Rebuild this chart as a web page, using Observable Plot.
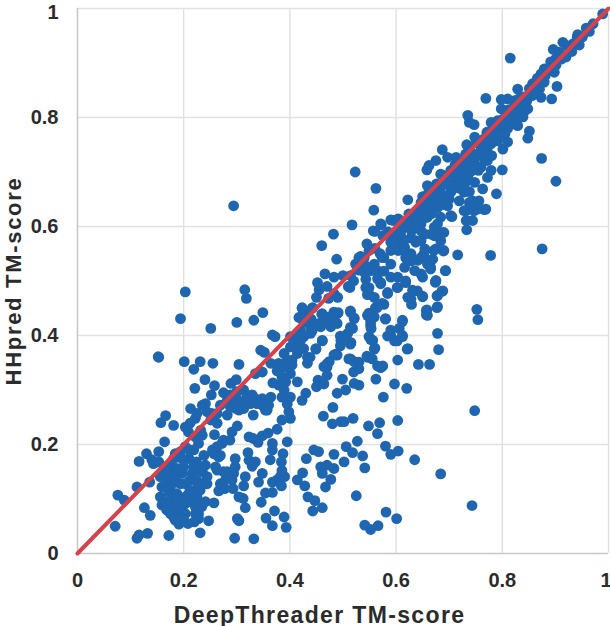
<!DOCTYPE html>
<html><head><meta charset="utf-8">
<script src="https://cdn.jsdelivr.net/npm/d3@7"></script>
<script src="https://cdn.jsdelivr.net/npm/@observablehq/plot@0.6"></script>
<style>html,body{margin:0;padding:0;background:#fff}svg{display:block}</style>
</head><body><div id="chart"></div>
<script>
const xLabel = "DeepThreader TM-score";
const yLabel = "HHpred TM-score";
const tickValues = [0,0.2,0.4,0.6,0.8,1];
const diagonal = [[0,0],[1,1]];
const lowScores = [[.071,.050],[.076,.107],[.088,.098],[.112,.122],[.136,.131],[.116,.169],[.130,.183],[.140,.172],[.153,.187],[.164,.205],[.157,.240],[.166,.253],[.181,.235],[.153,.360],[.152,.361],[.201,.352],[.219,.338],[.231,.352],[.255,.349],[.304,.347],[.240,.319],[.221,.303],[.258,.308],[.252,.291],[.275,.295],[.289,.312],[.299,.319],[.213,.266],[.235,.272],[.241,.275],[.203,.232],[.209,.223],[.222,.248],[.253,.257],[.263,.239],[.235,.217],[.258,.218],[.301,.234],[.291,.223],[.287,.208],[.272,.202],[.263,.196],[.254,.190],[.269,.180],[.228,.202],[.211,.190],[.194,.187],[.184,.183],[.238,.180],[.224,.168],[.210,.174],[.175,.162],[.162,.150],[.156,.141],[.181,.141],[.197,.147],[.216,.147],[.235,.150],[.244,.141],[.238,.128],[.225,.119],[.203,.128],[.187,.131],[.169,.128],[.172,.113],[.187,.110],[.203,.104],[.156,.104],[.225,.104],[.178,.095],[.203,.092],[.159,.089],[.234,.086],[.257,.093],[.228,.073],[.168,.080],[.190,.076],[.203,.073],[.126,.084],[.137,.070],[.181,.067],[.194,.064],[.191,.054],[.208,.055],[.220,.058],[.247,.060],[.231,.038],[.172,.033],[.132,.037],[.116,.034],[.112,.028],[.296,.028],[.332,.027],[.301,.064],[.304,.060],[.355,.065],[.371,.078],[.389,.067],[.367,.051],[.393,.048],[.316,.084],[.312,.101],[.304,.104],[.346,.094],[.354,.111],[.367,.112],[.313,.124],[.316,.141],[.266,.115],[.277,.119],[.293,.119],[.279,.135],[.275,.150],[.260,.159],[.294,.147],[.297,.159],[.297,.174],[.321,.185],[.323,.171],[.335,.168],[.329,.160],[.348,.147],[.341,.131],[.367,.131],[.376,.135],[.382,.141],[.384,.124],[.390,.141],[.385,.152],[.363,.172],[.384,.168],[.387,.183],[.367,.190],[.367,.202],[.395,.205],[.340,.204],[.323,.214],[.331,.211],[.348,.216],[.359,.221],[.376,.228],[.385,.245],[.401,.248],[.398,.260],[.395,.274],[.401,.287],[.331,.254],[.357,.263],[.364,.287],[.360,.272],[.348,.272],[.335,.284],[.319,.291],[.326,.275],[.310,.272],[.300,.284],[.304,.263],[.288,.269],[.282,.254],[.298,.278],[.313,.300]];
const midScores = [[.335,.330],[.348,.333],[.364,.349],[.345,.373],[.352,.369],[.367,.401],[.372,.398],[.379,.349],[.376,.335],[.368,.313],[.385,.324],[.389,.300],[.392,.315],[.401,.330],[.404,.346],[.414,.315],[.423,.281],[.430,.294],[.450,.306],[.453,.318],[.464,.311],[.470,.327],[.464,.343],[.474,.352],[.489,.364],[.433,.349],[.438,.360],[.449,.376],[.461,.391],[.439,.404],[.420,.391],[.411,.382],[.401,.398],[.414,.367],[.404,.355],[.426,.376],[.489,.294],[.481,.268],[.463,.252],[.480,.238],[.496,.242],[.203,.480],[.315,.484],[.318,.468],[.194,.431],[.300,.424],[.332,.428],[.349,.442],[.251,.413],[.423,.450],[.442,.450],[.420,.434],[.426,.425],[.439,.416],[.461,.440],[.455,.422],[.480,.425],[.467,.425],[.489,.440],[.452,.497],[.455,.484],[.483,.477],[.473,.468],[.414,.135],[.424,.148],[.428,.124],[.434,.104],[.447,.097],[.461,.084],[.443,.078],[.431,.174],[.445,.190],[.454,.187],[.483,.182],[.458,.159],[.461,.147],[.470,.162],[.483,.156],[.477,.136],[.467,.122],[.294,.638],[.482,.586],[.460,.565],[.488,.540],[.466,.513],[.483,.507]];
const rightLowScores = [[.752,.448],[.754,.429],[.678,.404],[.680,.374],[.642,.347],[.663,.347],[.603,.355],[.622,.376],[.562,.320],[.597,.311],[.620,.303],[.576,.287],[.748,.262],[.603,.244],[.569,.240],[.548,.234],[.565,.220],[.519,.248],[.502,.242],[.527,.206],[.506,.196],[.518,.185],[.537,.179],[.502,.168],[.541,.157],[.580,.197],[.590,.182],[.604,.188],[.635,.172],[.684,.146],[.525,.106],[.581,.076],[.601,.064],[.541,.052],[.552,.044],[.566,.051],[.743,.088],[.530,.309],[.521,.312],[.505,.300],[.499,.320],[.520,.333],[.530,.339],[.521,.352],[.511,.357],[.545,.362],[.555,.357],[.565,.344],[.575,.344],[.560,.377],[.556,.391],[.549,.398],[.553,.413],[.552,.425],[.546,.437],[.559,.434],[.580,.431],[.612,.428],[.606,.413],[.590,.410],[.584,.399],[.597,.390],[.612,.398],[.515,.387],[.502,.398],[.518,.413],[.509,.404],[.521,.431],[.514,.445],[.658,.447],[.659,.437],[.678,.453],[.629,.457],[.622,.470],[.631,.483],[.650,.472],[.678,.473],[.688,.482],[.674,.498],[.618,.497],[.603,.488],[.584,.479],[.574,.459],[.564,.451],[.559,.470],[.549,.476],[.543,.488],[.571,.495],[.513,.488]];
const upperScores = [[.989,.990],[.964,.958],[.958,.964],[.942,.952],[.945,.933],[.933,.935],[.914,.938],[.896,.925],[.907,.920],[.920,.911],[.901,.908],[.815,.909],[.898,.883],[.879,.889],[.873,.880],[.903,.857],[.893,.834],[.873,.837],[.860,.846],[.879,.865],[.857,.862],[.870,.852],[.829,.852],[.848,.816],[.839,.825],[.823,.831],[.810,.834],[.798,.833],[.769,.835],[.735,.804],[.738,.791],[.747,.787],[.798,.816],[.810,.807],[.823,.801],[.839,.801],[.829,.785],[.807,.785],[.791,.788],[.779,.791],[.851,.775],[.848,.762],[.810,.755],[.801,.742],[.779,.752],[.794,.767],[.766,.761],[.748,.764],[.733,.750],[.874,.725],[.901,.683],[.800,.704],[.779,.703],[.772,.690],[.766,.724],[.748,.727],[.687,.741],[.675,.721],[.662,.712],[.658,.704],[.697,.727],[.713,.727],[.729,.721],[.684,.696],[.703,.703],[.722,.703],[.738,.703],[.760,.709],[.748,.681],[.735,.690],[.763,.669],[.716,.687],[.697,.677],[.659,.675],[.738,.664],[.789,.660],[.756,.647],[.719,.647],[.738,.644],[.769,.632],[.728,.629],[.747,.629],[.753,.632],[.691,.654],[.678,.660],[.703,.663],[.659,.647],[.647,.644],[.622,.649],[.678,.635],[.697,.638],[.705,.618],[.684,.617],[.558,.630],[.562,.670],[.523,.700],[.517,.603],[.744,.611],[.732,.611],[.733,.594],[.684,.589],[.672,.599],[.659,.617],[.640,.629],[.624,.623],[.604,.614],[.595,.611],[.572,.603],[.560,.591],[.575,.583],[.591,.586],[.612,.599],[.629,.592],[.647,.605],[.654,.586],[.672,.583],[.684,.574],[.637,.574],[.612,.577],[.596,.574],[.545,.568],[.540,.543],[.530,.543],[.524,.531],[.514,.510],[.559,.531],[.574,.543],[.577,.518],[.553,.519],[.604,.556],[.616,.562],[.622,.537],[.616,.525],[.628,.550],[.654,.559],[.647,.543],[.659,.531],[.675,.559],[.689,.555],[.665,.522],[.669,.540],[.716,.548],[.778,.547],[.875,.559],[.693,.519],[.675,.501],[.647,.513],[.603,.507],[.565,.504],[.540,.516]];
const ridgeScores = [[.610,.603],[.632,.620],[.642,.628],[.650,.655],[.661,.638],[.667,.668],[.672,.650],[.676,.678],[.682,.668],[.686,.658],[.691,.693],[.696,.680],[.702,.697],[.706,.670],[.711,.713],[.716,.690],[.722,.718],[.726,.700],[.731,.733],[.736,.708],[.741,.737],[.746,.722],[.751,.754],[.756,.731],[.761,.757],[.766,.745],[.771,.773],[.776,.758],[.781,.778],[.786,.769],[.791,.794],[.796,.778],[.801,.797],[.806,.789],[.811,.814],[.816,.798],[.821,.818],[.826,.809],[.831,.834],[.836,.818],[.841,.838],[.846,.830],[.851,.853],[.856,.840],[.861,.857],[.866,.872],[.871,.861],[.881,.877],[.891,.902],[.901,.896],[.911,.907],[.921,.932],[.931,.921],[.941,.947],[.951,.948],[.961,.963],[.971,.972],[.450,.470],[.470,.490],[.440,.430],[.490,.470],[.500,.510],[.510,.490],[.530,.520],[.520,.500],[.540,.530],[.560,.560],[.570,.550],[.585,.590],[.595,.570],[.600,.590],[.620,.610],[.640,.600],[.650,.630],[.660,.660],[.670,.630],[.680,.650],[.690,.640],[.700,.650],[.710,.680],[.720,.670],[.730,.680],[.740,.700],[.750,.710],[.760,.740],[.770,.740],[.780,.730],[.790,.760],[.800,.770],[.810,.780],[.820,.790],[.830,.800],[.840,.810]];
const midBlobScores = [[.524,.531],[.533,.545],[.549,.556],[.577,.543],[.590,.556],[.602,.562],[.615,.556],[.618,.543],[.590,.531],[.565,.519],[.552,.525],[.543,.503],[.549,.488],[.546,.475],[.565,.454],[.577,.457],[.584,.477],[.602,.488],[.618,.500],[.590,.507],[.571,.497],[.635,.519],[.650,.507],[.640,.482],[.628,.467],[.650,.471],[.674,.498],[.693,.519],[.677,.473],[.686,.481],[.677,.451],[.657,.446],[.657,.438],[.665,.525],[.671,.556],[.690,.556],[.652,.549],[.659,.538],[.641,.538],[.628,.579],[.637,.571],[.615,.574],[.603,.580],[.590,.571],[.609,.592],[.621,.601],[.634,.611],[.656,.617],[.678,.605],[.690,.589],[.666,.586],[.647,.592],[.656,.641],[.678,.641],[.694,.654],[.671,.666],[.690,.678],[.703,.666],[.728,.684],[.716,.690],[.728,.663],[.744,.647],[.732,.629],[.747,.631],[.766,.631],[.703,.620],[.590,.612],[.571,.605],[.557,.592],[.423,.451],[.443,.451],[.417,.433],[.438,.421],[.460,.439],[.482,.426],[.491,.442],[.514,.443],[.521,.432],[.514,.415],[.495,.399],[.514,.384],[.461,.390],[.442,.409],[.426,.400],[.414,.390],[.433,.360],[.449,.375],[.486,.366],[.495,.381],[.470,.348],[.514,.357],[.530,.351],[.546,.360],[.571,.341],[.552,.393],[.559,.375],[.552,.418],[.549,.441],[.561,.451],[.580,.430],[.590,.400],[.602,.390],[.612,.426],[.612,.400],[.621,.375]];
const lowBlobScores = [[.165,.141],[.175,.150],[.187,.156],[.200,.159],[.219,.159],[.228,.153],[.241,.162],[.225,.134],[.212,.134],[.194,.128],[.175,.122],[.159,.122],[.212,.116],[.231,.116],[.210,.110],[.181,.101],[.194,.098],[.212,.095],[.222,.086],[.231,.092],[.241,.095],[.166,.095],[.175,.083],[.184,.086],[.197,.083],[.175,.073],[.184,.061],[.200,.061],[.222,.073],[.228,.064],[.143,.165],[.153,.168],[.166,.159],[.181,.174],[.197,.174],[.203,.196],[.219,.190],[.222,.214],[.232,.226],[.212,.239],[.225,.257],[.244,.260],[.251,.245],[.263,.257],[.269,.272],[.282,.281],[.288,.291],[.300,.297],[.316,.281],[.329,.291],[.338,.275],[.348,.284],[.354,.263],[.298,.266],[.313,.266],[.275,.208],[.257,.183],[.266,.177],[.263,.153],[.282,.150],[.269,.128],[.291,.135],[.244,.128],[.389,.342],[.395,.355],[.389,.367],[.401,.379],[.420,.410],[.414,.398],[.426,.398],[.464,.425],[.474,.434],[.483,.443],[.426,.443],[.433,.434],[.458,.416],[.477,.416],[.489,.422],[.496,.391],[.483,.364],[.470,.342],[.385,.287],[.379,.309]];
const upperBlobScores = [[.748,.715],[.735,.733],[.722,.712],[.760,.739],[.772,.745],[.791,.757],[.805,.770],[.823,.788],[.839,.806],[.703,.672],[.684,.647],[.666,.623],[.647,.617],[.622,.599],[.608,.586],[.647,.574],[.615,.556],[.628,.537],[.735,.715],[.755,.703],[.716,.672],[.772,.721]];
const points = [...lowScores, ...lowBlobScores, ...midScores, ...midBlobScores, ...rightLowScores, ...upperScores, ...upperBlobScores, ...ridgeScores];

const font = "'Liberation Sans', Arial, sans-serif";
const tickStyle = {fontSize: 20, fontWeight: "bold", fill: "#2b2b2b"};
const chart = Plot.plot({
  width: 610, height: 626,
  marginTop: 8, marginRight: 2, marginBottom: 73, marginLeft: 77,
  style: {fontFamily: font, background: "#fff"},
  x: {domain: [0,1]},
  y: {domain: [0,1]},
  marks: [
    Plot.ruleX(tickValues.slice(1), {stroke: "#dedede", strokeWidth: 1.3}),
    Plot.ruleY(tickValues.slice(1), {stroke: "#e2e2e2", strokeWidth: 1.5}),
    Plot.ruleX([0], {stroke: "#c8c8c8", strokeWidth: 1.5}),
    Plot.ruleY([0], {stroke: "#c8c8c8", strokeWidth: 1.5}),
    Plot.dot(points, {x: d => d[0], y: d => d[1], r: 5.4, fill: "#1f66b1", stroke: "none"}),
    Plot.line(diagonal, {x: d => d[0], y: d => d[1], stroke: "#d8404a", strokeWidth: 4}),
    Plot.axisX({ticks: tickValues.slice(0,-1), tickFormat: d => String(d), tickSize: 0, tickPadding: 19, label: null, ...tickStyle}),
    Plot.text(tickValues.slice(-1), {x: d => d, y: 0, dy: 33, dx: 3, textAnchor: "end", lineAnchor: "bottom", text: d => String(d), ...tickStyle}),
    Plot.axisY({ticks: tickValues.slice(0,-1), tickFormat: d => String(d), tickSize: 0, tickPadding: 19, label: null, ...tickStyle}),
    Plot.text(tickValues.slice(-1), {x: 0, y: d => d, dx: -19, dy: 4, textAnchor: "end", text: d => String(d), ...tickStyle}),
    Plot.text([xLabel], {frameAnchor: "bottom", dy: 69, dx: -23.5, text: d => d, fontSize: 23, fontWeight: "bold", fill: "#2b2b2b", className: "xtitle"}),
    Plot.text([yLabel], {frameAnchor: "left", textAnchor: "middle", dx: -63.5, rotate: -90, text: d => d, fontSize: 22, fontWeight: "bold", fill: "#2b2b2b", className: "ytitle"})
  ]
});
d3.select(chart).selectAll(".xtitle text").style("letter-spacing", "1.35px");
d3.select(chart).selectAll(".ytitle text").style("letter-spacing", "1.7px");
document.getElementById("chart").appendChild(chart);
</script>
</body></html>
